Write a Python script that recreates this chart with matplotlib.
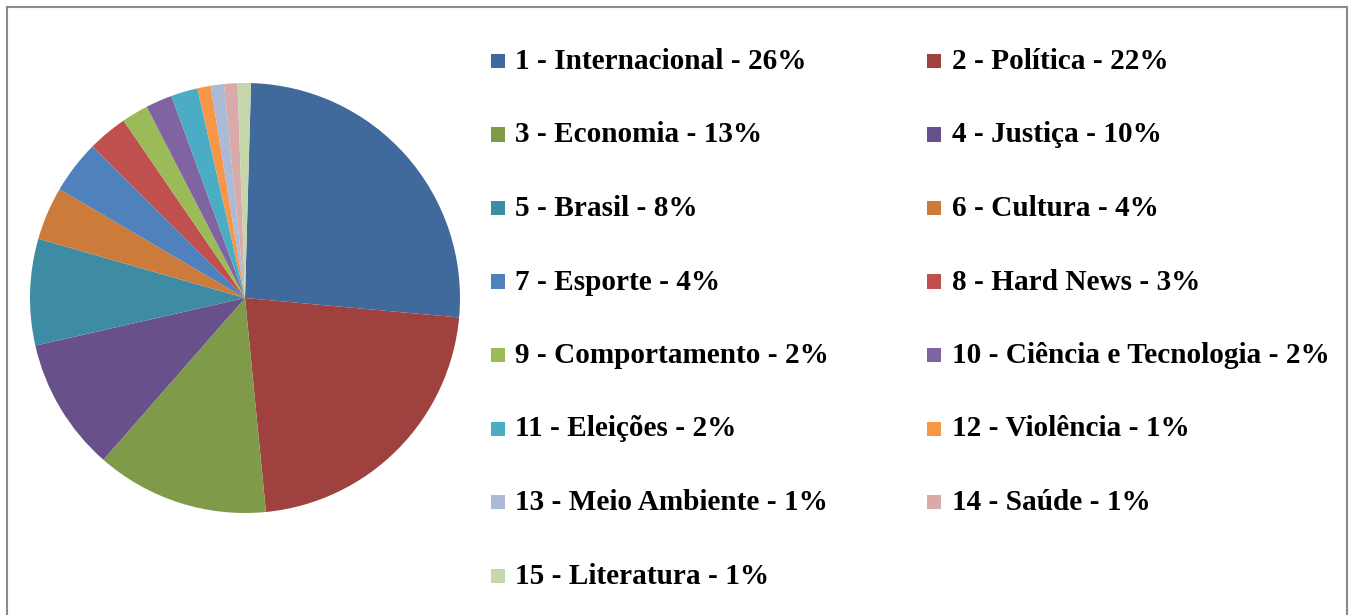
import matplotlib.pyplot as plt
from matplotlib.patches import Rectangle

# Editorias e percentuais
categories = ['Internacional', 'Política', 'Economia', 'Justiça', 'Brasil',
              'Cultura', 'Esporte', 'Hard News', 'Comportamento',
              'Ciência e Tecnologia', 'Eleições', 'Violência',
              'Meio Ambiente', 'Saúde', 'Literatura']
values = [26, 22, 13, 10, 8, 4, 4, 3, 2, 2, 2, 1, 1, 1, 1]
colors = ['#406A9C', '#9E413F', '#7F9B4A', '#68518A', '#3D8CA3',
          '#CC7B3A', '#4F81BD', '#C0504D', '#9BBB59', '#8064A2',
          '#4BACC6', '#F79646', '#AABAD7', '#D9AAA9', '#C6D6AC']

W, H = 1352, 615
fig = plt.figure(figsize=(W / 100, H / 100), dpi=100)

# pie
cx, cy, r = 245, 298, 215
ax = fig.add_axes([(cx - r) / W, (H - cy - r) / H, 2 * r / W, 2 * r / H])
ax.pie(values, colors=colors, startangle=88.4, counterclock=False,
       radius=1, wedgeprops=dict(linewidth=0))
ax.set_xlim(-1, 1)
ax.set_ylim(-1, 1)
ax.set_aspect('equal')
ax.axis('off')

# legend (two columns, row-wise)
font = dict(family='Liberation Serif', fontweight='bold', fontsize=21.1)
col_marker = [491, 927]
col_text = [515, 952]
for i, (name, v, c) in enumerate(zip(categories, values, colors)):
    row, col = divmod(i, 2)
    base = 69 + row * 73.5
    fig.patches.append(Rectangle((col_marker[col] / W, (H - base + 1) / H),
                                 14 / W, 14 / H, transform=fig.transFigure,
                                 facecolor=c, edgecolor='none'))
    fig.text(col_text[col] / W, (H - base) / H, f'{i + 1} - {name} - {v}%',
             va='baseline', ha='left', **font)

# chart border
fig.patches.append(Rectangle((6.5 / W, -0.05), 1340 / W, (H - 6.5) / H + 0.05,
                             transform=fig.transFigure, fill=False,
                             edgecolor='#8a8a8a', linewidth=1.5))

fig.savefig('out.png', dpi=100)
